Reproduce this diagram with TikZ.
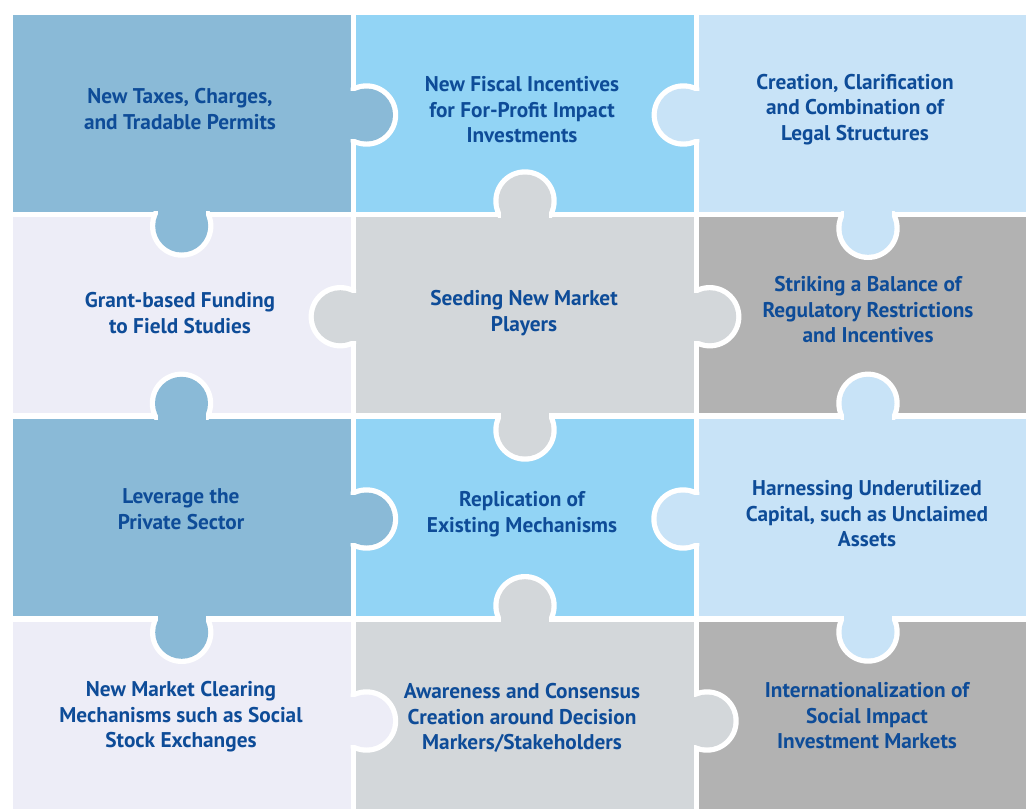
\documentclass[tikz,border=0pt]{standalone}
\usepackage{fontspec}
\setmainfont{PT Sans}
\definecolor{cA}{RGB}{138,186,215}
\definecolor{cB}{RGB}{146,212,245}
\definecolor{cC}{RGB}{200,227,247}
\definecolor{cD}{RGB}{237,237,247}
\definecolor{cE}{RGB}{211,215,218}
\definecolor{cF}{RGB}{178,178,178}
\definecolor{txt}{RGB}{14,76,152}
\newcommand\knobR[4]{% cx cy owner-edge colour
  \begin{scope}\clip (#3,#2-40) rectangle (#1+40,#2+40); \fill[white] (#1,#2) circle[radius=31.7pt]; \end{scope}
  \fill[#4] (#1,#2) circle[radius=26.5pt];
  \fill[#4] (#3-1,#2-24) rectangle (#1,#2+24);}
\newcommand\knobL[4]{%
  \begin{scope}\clip (#3,#2-40) rectangle (#1-40,#2+40); \fill[white] (#1,#2) circle[radius=31.7pt]; \end{scope}
  \fill[#4] (#1,#2) circle[radius=26.5pt];
  \fill[#4] (#3+1,#2-24) rectangle (#1,#2+24);}
\newcommand\knobD[4]{%
  \begin{scope}\clip (#1-40,#3) rectangle (#1+40,#2+40); \fill[white] (#1,#2) circle[radius=31.7pt]; \end{scope}
  \fill[#4] (#1,#2) circle[radius=26.5pt];
  \fill[#4] (#1-24,#3-1) rectangle (#1+24,#2);}
\newcommand\knobU[4]{%
  \begin{scope}\clip (#1-40,#3) rectangle (#1+40,#2-40); \fill[white] (#1,#2) circle[radius=31.7pt]; \end{scope}
  \fill[#4] (#1,#2) circle[radius=26.5pt];
  \fill[#4] (#1-24,#3+1) rectangle (#1+24,#2);}
\tikzset{
  tile/.style={draw=none, inner sep=0pt, rectangle},
  label/.style={text=txt, font=\fontsize{21.3}{25.5}\selectfont\bfseries, align=center, inner sep=0pt}
}
\begin{document}
\begin{tikzpicture}[x=1pt,y=-1pt]
\useasboundingbox (0,0) rectangle (1026,809);
\fill[white] (0,0) rectangle (1026,809);
% tiles
\node[tile, fill=cA, minimum width=338pt, minimum height=196.7pt] (r11) at (181.7,113.35) {};
\node[tile, fill=cB, minimum width=338pt, minimum height=196.7pt] (r12) at (525,113.35) {};
\node[tile, fill=cC, minimum width=326.7pt, minimum height=196.7pt] (r13) at (862.65,113.35) {};
\node[tile, fill=cD, minimum width=338pt, minimum height=196pt] (r21) at (181.7,315.3) {};
\node[tile, fill=cE, minimum width=338pt, minimum height=196pt] (r22) at (525,315.3) {};
\node[tile, fill=cF, minimum width=326.7pt, minimum height=196pt] (r23) at (862.65,315.3) {};
\node[tile, fill=cA, minimum width=338pt, minimum height=196.7pt] (r31) at (181.7,517.65) {};
\node[tile, fill=cB, minimum width=338pt, minimum height=196.7pt] (r32) at (525,517.65) {};
\node[tile, fill=cC, minimum width=326.7pt, minimum height=196.7pt] (r33) at (862.65,517.65) {};
\node[tile, fill=cD, minimum width=338pt, minimum height=187.3pt] (r41) at (181.7,715.35) {};
\node[tile, fill=cE, minimum width=338pt, minimum height=187.3pt] (r42) at (525,715.35) {};
\node[tile, fill=cF, minimum width=326.7pt, minimum height=187.3pt] (r43) at (862.65,715.35) {};
% knobs
\knobR{366.5}{115}{350.7}{cA}
\knobU{525}{201}{217.3}{cE}
\knobL{683.3}{115}{699.3}{cC}
\knobD{181.7}{226}{211.7}{cA}
\knobD{868}{228.3}{211.7}{cC}
\knobL{340.3}{316.7}{356}{cE}
\knobR{709.7}{316.7}{694}{cE}
\knobU{181.5}{403.3}{419.3}{cA}
\knobD{525}{430}{413.3}{cE}
\knobU{868}{403.3}{419.3}{cC}
\knobR{366.5}{519}{350.7}{cA}
\knobL{683}{519}{699.3}{cC}
\knobU{525}{605.7}{621.7}{cE}
\knobD{181.7}{632.3}{616}{cA}
\knobD{868}{632}{616}{cC}
\knobR{366.5}{721}{350.7}{cD}
\knobR{707}{721}{694}{cE}
% labels
\node[label] (t11) at (180,109) {New Taxes, Charges,\\and Tradable Permits};
\node[label] (t12) at (522,110) {New Fiscal Incentives\\for For-Profit Impact\\Investments};
\node[label] (t13) at (855,109.5) {Creation, Clarification\\and Combination of\\Legal Structures};
\node[label] (t21) at (180,313) {Grant-based Funding\\to Field Studies};
\node[label] (t22) at (524,313) {Seeding New Market\\Players};
\node[label] (t23) at (868,310) {Striking a Balance of\\Regulatory Restrictions\\and Incentives};
\node[label] (t31) at (181,509) {Leverage the\\Private Sector};
\node[label] (t32) at (522,514) {Replication of\\Existing Mechanisms};
\node[label] (t33) at (867,514) {Harnessing Underutilized\\Capital, such as Unclaimed\\Assets};
\node[label] (t41) at (181,717) {New Market Clearing\\Mechanisms such as Social\\Stock Exchanges};
\node[label] (t42) at (522,718) {Awareness and Consensus\\Creation around Decision\\Markers/Stakeholders};
\node[label] (t43) at (867,716) {Internationalization of\\Social Impact\\Investment Markets};
\end{tikzpicture}
\end{document}
